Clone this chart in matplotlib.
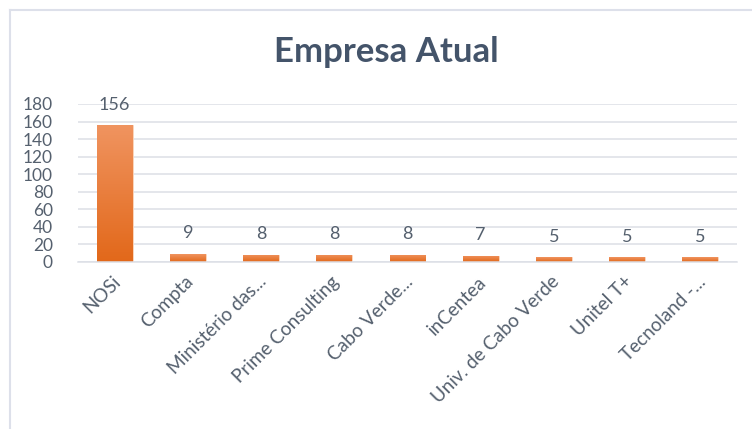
import matplotlib
matplotlib.use("Agg")
import matplotlib.pyplot as plt
import numpy as np
from matplotlib.colors import LinearSegmentedColormap
from matplotlib.lines import Line2D
from matplotlib.transforms import ScaledTranslation

plt.rcParams["font.family"] = ["Lato", "DejaVu Sans"]

# ---- data ------------------------------------------------------------------
empresas = ["NOSi", "Compta", "Ministério das...", "Prime Consulting",
            "Cabo Verde...", "inCentea", "Univ. de Cabo Verde", "Unitel T+",
            "Tecnoland -..."]
contagem = [156, 9, 8, 8, 8, 7, 5, 5, 5]
y_ticks = [0, 20, 40, 60, 80, 100, 120, 140, 160, 180]
# -----------------------------------------------------------------------------

TEXT = "#55606E"
GRID = "#DCDFE6"

fig = plt.figure(figsize=(7.52, 4.29), dpi=100)
ax = fig.add_axes([0.1037, 0.390, 0.8763, 0.3676])

x = np.arange(len(empresas))
bars = ax.bar(x, contagem, width=0.49, color="#EF7F30", edgecolor="#FBD9C2",
              linewidth=0.6, zorder=2)

# vertical orange gradient inside each bar (lighter top, darker bottom)
cmap = LinearSegmentedColormap.from_list("laranja", ["#E2681A", "#F09460"])
grad = np.linspace(0, 1, 256).reshape(-1, 1)
for b in bars:
    x0, y0 = b.get_x(), b.get_y()
    im = ax.imshow(grad, extent=[x0, x0 + b.get_width(), y0, y0 + b.get_height()],
                   origin="lower", aspect="auto", cmap=cmap, zorder=2.5)
    im.set_clip_path(b)

for xi, v in zip(x, contagem):
    ax.annotate(str(v), (xi, v), xytext=(0, 9), textcoords="offset points",
                ha="center", va="bottom", fontsize=13, color=TEXT)

ax.set_xlim(-0.5, len(empresas) - 0.5)
ax.set_ylim(0, 180)
ax.set_yticks(y_ticks)
ax.set_yticklabels([str(t) for t in y_ticks], fontsize=12.5, color=TEXT)
ax.set_xticks(x)
ax.set_xticklabels(empresas, rotation=45, ha="right", va="center",
                   rotation_mode="anchor", fontsize=13.6, color=TEXT)
ax.tick_params(axis="both", length=0)
ax.tick_params(axis="x", pad=12.5)
ax.tick_params(axis="y", pad=18)
# nudge the rotated labels slightly to the right, as in the original
shift = ScaledTranslation(2 / 72, 0, fig.dpi_scale_trans)
for lab in ax.get_xticklabels():
    lab.set_transform(lab.get_transform() + shift)
ax.yaxis.grid(True, color=GRID, linewidth=1.1, zorder=0)
ax.set_axisbelow(True)
for s in ["top", "right", "left"]:
    ax.spines[s].set_visible(False)
ax.spines["bottom"].set_color(GRID)
ax.spines["bottom"].set_linewidth(1.1)

fig.text(386 / 752, 1 - 52 / 429, "Empresa Atual", ha="center", va="center",
         fontsize=25, fontweight="bold", color="#44546A")

# light frame of the chart object (left and top edges)
fig.add_artist(Line2D([10 / 752, 10 / 752], [0, 1 - 10 / 429],
                      transform=fig.transFigure, color="#DDE0EA", linewidth=1.5))
fig.add_artist(Line2D([10 / 752, 1], [1 - 10 / 429, 1 - 10 / 429],
                      transform=fig.transFigure, color="#DDE0EA", linewidth=1.5))

fig.savefig("out.png", dpi=100, facecolor="white")
